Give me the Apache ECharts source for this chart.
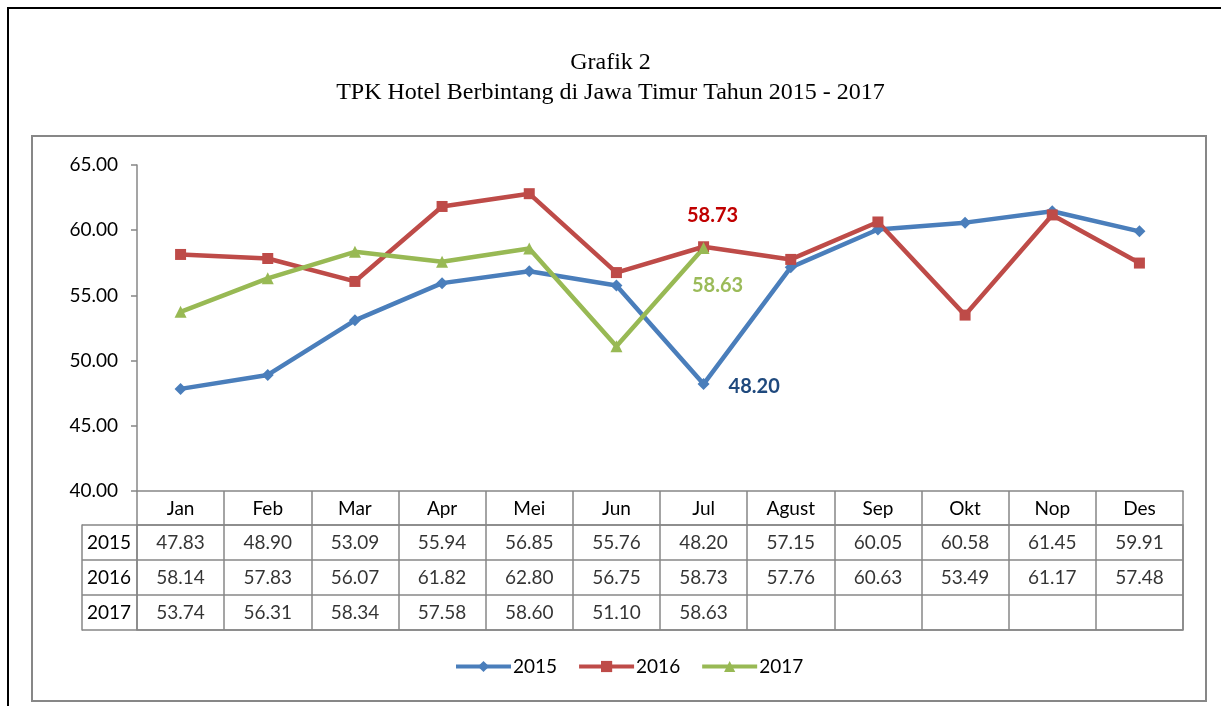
<!DOCTYPE html>
<html>
<head>
<meta charset="utf-8">
<script src="https://cdn.jsdelivr.net/npm/echarts/dist/echarts.min.js"></script>
<style>
  html, body { margin: 0; padding: 0; background: #fff; }
  #main { width: 1221px; height: 706px; }
</style>
</head>
<body>
<div id="main"></div>
<script>
// data
var months = ['Jan', 'Feb', 'Mar', 'Apr', 'Mei', 'Jun', 'Jul', 'Agust', 'Sep', 'Okt', 'Nop', 'Des'];
var years = ['2015', '2016', '2017'];
var tpk2015 = [47.83, 48.90, 53.09, 55.94, 56.85, 55.76, 48.20, 57.15, 60.05, 60.58, 61.45, 59.91];
var tpk2016 = [58.14, 57.83, 56.07, 61.82, 62.80, 56.75, 58.73, 57.76, 60.63, 53.49, 61.17, 57.48];
var tpk2017 = [53.74, 56.31, 58.34, 57.58, 58.60, 51.10, 58.63];

var gray = '#878787';
var font = 'Lato, "Open Sans", sans-serif';

var myChart = echarts.init(document.getElementById('main'));

// isi tabel di bawah grafik
function tableSeries(name, values, row) {
    var data = values.map(function (v, i) { return [i, row, v]; });
    return {
        name: name,
        type: 'scatter',
        xAxisIndex: 1,
        yAxisIndex: 1,
        symbolSize: 1,
        itemStyle: { color: 'rgba(0,0,0,0)' },
        silent: true,
        data: data,
        label: {
            show: true,
            position: 'inside',
            color: '#000',
            fontFamily: font,
            fontSize: 19,
            formatter: function (p) { return p.value[2].toFixed(2); }
        }
    };
}

// label khusus bulan Juli
function withLabel(values, idx, label) {
    label.formatter = function (p) { return p.value.toFixed(2); };
    return values.map(function (v, i) {
        return i === idx ? { value: v, label: label } : v;
    });
}

var option = {
    animation: false,
    textStyle: { fontFamily: font },
    title: {
        text: 'Grafik 2\nTPK Hotel Berbintang di Jawa Timur Tahun 2015 - 2017',
        left: 'center',
        top: 43,
        textStyle: {
            fontFamily: '"Liberation Serif", "Times New Roman", serif',
            fontWeight: 'normal',
            fontSize: 24,
            lineHeight: 30,
            color: '#000'
        }
    },
    legend: {
        data: ['2015', '2016', '2017'],
        left: 449,
        top: 652,
        itemWidth: 55,
        itemHeight: 14,
        itemGap: 20,
        lineStyle: { width: 4 },
        textStyle: { fontSize: 19, color: '#000', fontFamily: font, padding: [0, 0, 0, -3] }
    },
    graphic: [
        {
            type: 'rect',
            shape: { x: 32, y: 136, width: 1174, height: 565 },
            style: { fill: null, stroke: gray, lineWidth: 2 }
        },
        {
            type: 'polyline',
            shape: { points: [[8, 706], [8, 8], [1221, 8]] },
            style: { fill: null, stroke: '#000', lineWidth: 2 }
        }
    ],
    grid: [
        { left: 137, top: 165, width: 1046, height: 326 },
        { left: 137, top: 525, width: 1046, height: 105, show: true, borderColor: gray, borderWidth: 1.5 }
    ],
    xAxis: [
        {
            gridIndex: 0,
            type: 'category',
            data: months,
            boundaryGap: true,
            axisLine: { lineStyle: { color: gray, width: 1.5 } },
            axisTick: { show: true, length: 34, interval: 0, lineStyle: { color: gray, width: 1.5 } },
            axisLabel: { interval: 0, margin: 8, fontSize: 19, color: '#000', fontFamily: font }
        },
        {
            gridIndex: 1,
            type: 'category',
            data: months,
            boundaryGap: true,
            axisLine: { show: false },
            axisTick: { show: false },
            axisLabel: { show: false },
            splitLine: { show: true, interval: 0, lineStyle: { color: gray, width: 1.5 } }
        }
    ],
    yAxis: [
        {
            gridIndex: 0,
            type: 'value',
            min: 40,
            max: 65,
            interval: 5,
            axisLine: { show: true, lineStyle: { color: gray, width: 1.5 } },
            axisTick: { show: true, length: 6, lineStyle: { color: gray, width: 1.5 } },
            splitLine: { show: false },
            axisLabel: {
                margin: 19,
                fontSize: 19,
                color: '#000',
                fontFamily: font,
                formatter: function (v) { return v.toFixed(2); }
            }
        },
        {
            gridIndex: 1,
            type: 'category',
            data: years,
            inverse: true,
            axisLine: { show: false },
            axisTick: { show: true, length: 55, interval: 0, lineStyle: { color: gray, width: 1.5 } },
            splitLine: { show: true, interval: 0, lineStyle: { color: gray, width: 1.5 } },
            axisLabel: { align: 'center', margin: 28, fontSize: 19, color: '#000', fontFamily: font }
        },
        {
            gridIndex: 1,
            type: 'category',
            data: years,
            inverse: true,
            position: 'left',
            offset: 55,
            axisLine: { show: true, lineStyle: { color: gray, width: 1.5 } },
            axisTick: { show: false },
            axisLabel: { show: false }
        }
    ],
    series: [
        {
            name: '2015',
            type: 'line',
            data: withLabel(tpk2015, 6, {
                show: true, position: 'right', distance: 19, offset: [0, 2],
                color: '#1F497D', fontWeight: 'bold', fontSize: 20, fontFamily: font
            }),
            symbol: 'diamond',
            symbolSize: 12,
            itemStyle: { color: '#4A7EBB' },
            lineStyle: { width: 4.5, color: '#4A7EBB' },
            z: 3
        },
        {
            name: '2016',
            type: 'line',
            data: withLabel(tpk2016, 6, {
                show: true, position: 'top', distance: 16, offset: [9, 0],
                color: '#C00000', fontWeight: 'bold', fontSize: 20, fontFamily: font
            }),
            symbol: 'rect',
            symbolSize: 11,
            itemStyle: { color: '#BE4B48' },
            lineStyle: { width: 4.5, color: '#BE4B48' },
            z: 3
        },
        {
            name: '2017',
            type: 'line',
            data: withLabel(tpk2017, 6, {
                show: true, position: 'bottom', distance: 21, offset: [14, 0],
                color: '#9BBB59', fontWeight: 'bold', fontSize: 20, fontFamily: font
            }),
            symbol: 'triangle',
            symbolSize: 12,
            itemStyle: { color: '#98B954' },
            lineStyle: { width: 4.5, color: '#98B954' },
            z: 3
        },
        tableSeries('t2015', tpk2015, 0),
        tableSeries('t2016', tpk2016, 1),
        tableSeries('t2017', tpk2017, 2)
    ]
};

myChart.setOption(option);
</script>
</body>
</html>
